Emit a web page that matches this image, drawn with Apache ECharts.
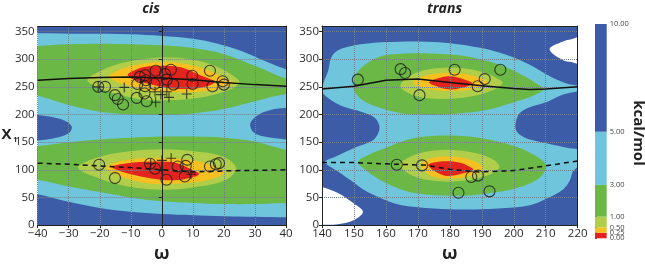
<!DOCTYPE html>
<html>
<head>
<meta charset="utf-8">
<script src="https://cdn.jsdelivr.net/npm/echarts@6/dist/echarts.min.js"></script>
<style>
html, body { margin: 0; padding: 0; background: #fff; }
#main { width: 645px; height: 268px; }
</style>
</head>
<body>
<div id="main"></div>
<script>
// energy levels (kcal/mol) of the contour bands
var levels = [0, 0.25, 0.5, 1, 3, 5, 10];
var levelColors = ['#e3231d', '#f6c020', '#b1ce4a', '#6bb846', '#6fc6dc', '#3d5ca8'];
// where each level sits along the colour bar (fraction of its height)
var cbarPos = [0, 0.026, 0.051, 0.101, 0.249, 0.497, 1];

var cisTicks = [-40, -30, -20, -10, 0, 10, 20, 30, 40];
var transTicks = [140, 150, 160, 170, 180, 190, 200, 210, 220];

// ---- cis contour outlines [omega, chi1] ----
var cisDarkTop = [[-45,372],[45,372],[45,280],[40,282],[33,297],[26,314],[18,328],[10,337],[0,342],[-10,345],[-25,346],[-40,347],[-45,347]];
var cisDarkBot = [[-45,-12],[45,-12],[45,14],[40,14],[30,15],[20,16],[10,18],[0,20],[-10,24],[-20,31],[-30,42],[-40,56],[-45,58]];
var cisBlobL = [[-45,201],[-40,199],[-35,195],[-31,188],[-29,178],[-30,166],[-34,158],[-40,153],[-45,152]];
var cisBlobR = [[45,214],[40,212],[35,208],[31,199],[28.5,184],[29.5,168],[33,160],[40,155],[45,154]];
var cisGreenTop = [[-45,323],[-40,324],[-30,327],[-20,328],[-10,327],[0,325],[10,320],[20,309],[30,288],[40,265],[45,262],[45,238],[40,237],[30,224],[20,210],[10,202],[0,199],[-10,200],[-20,205],[-30,217],[-40,234],[-45,236]];
var cisGreenBot = [[-45,142],[-40,143],[-30,150],[-20,155],[-10,158],[0,160],[10,160],[20,158],[30,151],[40,136],[45,134],[45,40],[40,40],[30,38],[20,38],[10,40],[0,43],[-10,50],[-20,60],[-30,70],[-40,82],[-45,84]];
var cisLgTop = [[-24,262],[-20,278],[-13,293],[-5,301],[3,303],[11,298],[18,286],[23,270],[25,258],[22,245],[14,232],[4,226],[-6,227],[-14,236],[-20,248]];
var cisLgBot = [[-27,104],[-21,122],[-11,133],[0,137],[11,133],[20,123],[24,102],[20,80],[10,68],[0,64],[-10,69],[-20,84]];
var cisYelTop = [[-17,268],[-14,280],[-8,290],[0,295],[8,291],[15,280],[20,267],[23,257],[19,247],[12,241],[3,240],[-5,244],[-12,254]];
var cisYelBot = [[-18,104],[-13,116],[-5,121],[3,121],[11,116],[17,106],[20,95],[16,83],[8,76],[0,74],[-8,79],[-14,90]];
var cisRedTop = [[-11,272],[-8,282],[-4,287],[2,288],[7,284],[12,272],[17,259],[14,250],[8,246],[2,248],[-4,255],[-9,263]];
var cisRedBot = [[-16,105],[-11,112],[-3,115],[4,113],[9,102],[12,92],[8,84],[2,81],[-5,86],[-12,95]];

var cisSolid = [[-40,262],[-30,265],[-20,267],[-10,268],[0,266],[10,263],[20,258],[30,254],[40,251]];
var cisDash = [[-40,112],[-30,110],[-20,107],[-10,104],[0,100],[10,96],[20,98],[30,99],[40,100]];
var cisCircles = [[-20.5,250],[-18.3,250],[-15.1,235],[-14.2,228],[-12.5,218],[-8.1,230],[-7.9,255],[-7.1,268],[-5.4,271],[-5.1,262],[-5.4,251],[-5.6,238],[-4.9,224],[-2.4,255],[-2,279],[1,273],[1.6,263],[2.9,281],[3.7,254],[9.8,270],[9.9,255],[15.5,279],[16.3,251],[19.6,260],[20,254],
  [-20.2,109],[-15.1,85],[-3.8,111],[-2.2,102],[1.5,82],[5.1,106],[8.2,118],[7.7,107],[7.4,88],[15.5,106],[17.4,110],[18.4,112]];
var cisPlus = [[-20.5,250],[-12.1,249],[-2.2,241],[-2,222],[-0.3,236],[1.6,241],[2.3,231],[8,237],
  [-3.6,111],[0,117],[0,100],[3,121],[9.4,92]];

// ---- trans contour outlines [omega, chi1] ----
var transLight = [[140,244],[140.5,258],[141.9,278],[142.9,303],[145,316],[149.2,324],[155,329],[160,331],[170,332],[180,329],[190,320],[198,307],[205,290],[211,270],[216.5,256],[221,250],[221,244],[215.4,236],[210.2,222],[205,213],[202,203],[200.7,188],[200.7,172],[202.5,161],[205,155],[210.2,148],[216.5,140],[221,134],[221,112],[218.5,97],[217.5,80],[215.5,65],[211,50],[205,36],[195,30],[185,28],[175,30],[165,36],[159.6,46],[153.3,63],[149.2,80],[145,97],[141,112],[141,116],[145,126],[150.2,140],[154,148],[156.5,156],[158,176],[156.5,194],[152.3,205],[146,216],[141.9,230],[140,240]];
var transWhiteTR = [[222,340],[218,336],[215.4,332],[211.2,318],[215.4,298],[218,295],[222,291]];
var transWhiteBL = [[138,70],[140,69],[145,58],[150.2,38],[152.8,24],[150.2,9.6],[145,1.5],[140,0.5],[138,0.5]];
var transGreenTop = [[149.7,250],[151.3,278],[155,296],[159.6,307],[165,310],[175,310],[185.6,305],[196,289],[203,270],[208,253],[209.5,246],[206,234],[200,222],[193,210],[185,203],[175,199],[165,202],[158,212],[152.3,227.5]];
var transGreenBot = [[151.3,114],[155,128],[159.6,139],[168.5,157],[180,162],[190,157],[200,143],[206,128],[210,108],[208,85],[201,67],[190,56],[180,53],[168,59],[160,76],[154,98]];
var transLgTop = [[164.5,252],[167,268],[172,280],[180,285],[188,280],[194,268],[196.5,257],[193,243],[186,232],[178,228],[170,232],[166,242]];
var transLgBot = [[164.5,108],[167,122],[173,133],[181,136],[189,129],[194,117],[195.5,104],[192,90],[184,80],[175,80],[168,90]];
var transYelTop = [[168.5,258],[171,268],[176,274],[182,275],[188,269],[192,257],[188,247],[181,242],[174,245],[170,251]];
var transYelBot = [[171,109],[173,119],[178,124],[184,122],[189,112],[190.5,101],[187,90],[181,84],[175,87],[172,98]];
var transRedTop = [[173.5,258],[176,265],[179.5,269],[183,266],[187,256],[182,246],[178,247],[175.5,252]];
var transRedBot = [[173.2,108],[175,113],[179,115.5],[183,113],[186,106],[187.3,100],[183,92],[179,89],[176,95]];

var transSolid = [[140,246],[150,251],[160,262],[170,264],[180,258],[190,252],[200,247],[205,245],[210,246],[220,250]];
var transDash = [[140,113],[150,113],[163,110],[172,108.5],[180,101],[189,96],[200,98.5],[205,103],[210,107],[220,116]];
var transCircles = [[151.2,263],[164.6,282],[166,275],[170.5,235],[181.5,281],[188.7,251],[190.9,264],[195.8,281],
  [163.4,109],[171.3,108],[186.7,87],[188.8,89.5],[182.7,58.5],[192.4,61]];

var dark = levelColors[5], light = levelColors[4], green = levelColors[3],
    lgreen = levelColors[2], yellow = levelColors[1], red = levelColors[0];

var cisRegions = [
  [cisDarkTop, dark], [cisDarkBot, dark], [cisBlobL, dark], [cisBlobR, dark],
  [cisGreenTop, green], [cisGreenBot, green],
  [cisLgTop, lgreen], [cisLgBot, lgreen],
  [cisYelTop, yellow], [cisYelBot, yellow],
  [cisRedTop, red], [cisRedBot, red]
];
var transRegions = [
  [transLight, light], [transWhiteTR, '#ffffff'], [transWhiteBL, '#ffffff'],
  [transGreenTop, green], [transGreenBot, green],
  [transLgTop, lgreen], [transLgBot, lgreen],
  [transYelTop, yellow], [transYelBot, yellow],
  [transRedTop, red], [transRedBot, red]
];

var font = '"Open Sans", sans-serif';
var plusPath = 'path://M4.45,0H5.55V4.45H10V5.55H5.55V10H4.45V5.55H0V4.45H4.45Z';

function areaSeries(idx, regions) {
  return {
    type: 'custom', xAxisIndex: idx, yAxisIndex: idx, clip: true, silent: true, z: 1,
    data: regions.map(function (r) {
      var p = r[0][Math.floor(r[0].length / 2)];
      return [p[0], p[1]];
    }),
    renderItem: function (params, api) {
      var r = regions[params.dataIndex];
      return {
        type: 'polygon',
        shape: { points: r[0].map(function (p) { return api.coord(p); }), smooth: 0.35 },
        style: { fill: r[1] }
      };
    }
  };
}

function bottomAxis(idx, ticks) {
  return {
    gridIndex: idx, type: 'value', min: ticks[0], max: ticks[ticks.length - 1], interval: 10, z: 3,
    name: 'ω', nameLocation: 'middle', nameGap: 18,
    nameTextStyle: { fontFamily: font, fontWeight: 'bold', fontSize: 18, color: '#222' },
    axisLine: { lineStyle: { color: '#222', width: 1 } },
    axisTick: { length: 3, lineStyle: { color: '#222' } },
    axisLabel: { margin: 3, fontFamily: font, fontSize: 11.5, color: '#2b2b2b',
      formatter: function (v) { return String(v).replace('-', '\u2212'); } },
    splitLine: { show: true, lineStyle: { color: '#74808c', type: 'dotted', width: 1 } }
  };
}
function leftAxis(idx) {
  return {
    gridIndex: idx, type: 'value', min: 0, max: 360, interval: 50, z: 3,
    axisLine: { show: true, lineStyle: { color: '#222', width: 1 } },
    axisTick: { show: true, length: 3, lineStyle: { color: '#222' } },
    axisLabel: { margin: 3, fontFamily: font, fontSize: 11.5, color: '#2b2b2b', showMaxLabel: false },
    splitLine: { show: true, lineStyle: { color: '#74808c', type: 'dotted', width: 1 } }
  };
}
function frameAxis(idx, pos) {
  return {
    gridIndex: idx, type: 'value', position: pos, min: 0, max: 1, z: 3,
    axisLine: { show: true, onZero: false, lineStyle: { color: '#222', width: 1 } },
    axisTick: { show: false }, axisLabel: { show: false }, splitLine: { show: false }
  };
}

function cbarLabel(x, y, v) {
  return { type: 'text', x: x, y: y, z2: 10,
    style: { text: v.toFixed(2), font: '7.5px ' + font, fill: '#444', verticalAlign: 'middle' } };
}

var chart = echarts.init(document.getElementById('main'));
chart.setOption({
  animation: false,
  grid: [
    { left: 37.7, top: 26, width: 248.3, height: 212, show: true, backgroundColor: light, borderWidth: 0 },
    { left: 322, top: 26, width: 255.7, height: 212, show: true, backgroundColor: dark, borderWidth: 0 },
    { left: 595, top: 24, width: 11.7, height: 214.3 }
  ],
  xAxis: [
    bottomAxis(0, cisTicks),
    bottomAxis(1, transTicks),
    frameAxis(0, 'top'),
    frameAxis(1, 'top'),
    { gridIndex: 2, type: 'value', min: 0, max: 1, show: false }
  ],
  yAxis: [
    leftAxis(0),
    leftAxis(1),
    frameAxis(0, 'right'),
    frameAxis(1, 'right'),
    {
      gridIndex: 2, type: 'value', min: 0, max: 1, position: 'right',
      axisLine: { show: false }, splitLine: { show: false },
      axisTick: { show: true, length: 2, customValues: cbarPos, lineStyle: { color: '#555' } },
      axisLabel: { show: false }
    }
  ],
  graphic: [
    { type: 'text', x: 151, y: 9, style: { text: 'cis', font: 'italic bold 14px ' + font, fill: '#222', align: 'center', verticalAlign: 'middle' } },
    { type: 'text', x: 444.5, y: 9, style: { text: 'trans', font: 'italic bold 14px ' + font, fill: '#222', align: 'center', verticalAlign: 'middle' } },
    { type: 'text', x: 1.5, y: 135, style: { text: 'Χ', font: 'bold 15px ' + font, fill: '#222', verticalAlign: 'middle' } },
    { type: 'text', x: 13.3, y: 140, style: { text: '1', font: 'bold 7px ' + font, fill: '#222', verticalAlign: 'middle' } },
    { type: 'text', x: 638, y: 133, rotation: -Math.PI / 2, style: { text: 'kcal/mol', font: 'bold 15px ' + font, fill: '#222', align: 'center', verticalAlign: 'middle' } }
  ],
  series: [
    areaSeries(0, cisRegions),
    areaSeries(1, transRegions),
    { type: 'line', xAxisIndex: 0, yAxisIndex: 0, data: cisSolid, showSymbol: false, silent: true, z: 5,
      lineStyle: { color: '#111', width: 1.5 } },
    { type: 'line', xAxisIndex: 0, yAxisIndex: 0, data: cisDash, showSymbol: false, silent: true, z: 5,
      lineStyle: { color: '#111', width: 1.5, type: [5, 4] } },
    { type: 'line', xAxisIndex: 1, yAxisIndex: 1, data: transSolid, showSymbol: false, silent: true, z: 5,
      lineStyle: { color: '#111', width: 1.5 } },
    { type: 'line', xAxisIndex: 1, yAxisIndex: 1, data: transDash, showSymbol: false, silent: true, z: 5,
      lineStyle: { color: '#111', width: 1.5, type: [5, 4] } },
    { type: 'scatter', xAxisIndex: 0, yAxisIndex: 0, data: cisCircles, symbol: 'circle', symbolSize: 11, silent: true, z: 6,
      itemStyle: { color: 'rgba(0,0,0,0)', borderColor: '#1a1a1a', borderWidth: 1.1 } },
    { type: 'scatter', xAxisIndex: 0, yAxisIndex: 0, data: cisPlus, symbol: plusPath, symbolSize: 10, silent: true, z: 6,
      itemStyle: { color: '#1a1a1a' } },
    { type: 'scatter', xAxisIndex: 1, yAxisIndex: 1, data: transCircles, symbol: 'circle', symbolSize: 11, silent: true, z: 6,
      itemStyle: { color: 'rgba(0,0,0,0)', borderColor: '#1a1a1a', borderWidth: 1.1 } },
    {
      type: 'custom', xAxisIndex: 4, yAxisIndex: 4, silent: true,
      data: levelColors.map(function (c, i) { return [0.5, (cbarPos[i] + cbarPos[i + 1]) / 2]; }),
      renderItem: function (params, api) {
        var i = params.dataIndex;
        var p0 = api.coord([0, cbarPos[i]]), p1 = api.coord([1, cbarPos[i + 1]]);
        var children = [
          { type: 'rect', shape: { x: p0[0], y: p1[1], width: p1[0] - p0[0], height: p0[1] - p1[1] },
            style: { fill: levelColors[i] } },
          cbarLabel(p1[0] + 3, p0[1], levels[i])
        ];
        if (i === levelColors.length - 1) children.push(cbarLabel(p1[0] + 3, p1[1], levels[i + 1]));
        return { type: 'group', children: children };
      }
    }
  ]
});
</script>
</body>
</html>
